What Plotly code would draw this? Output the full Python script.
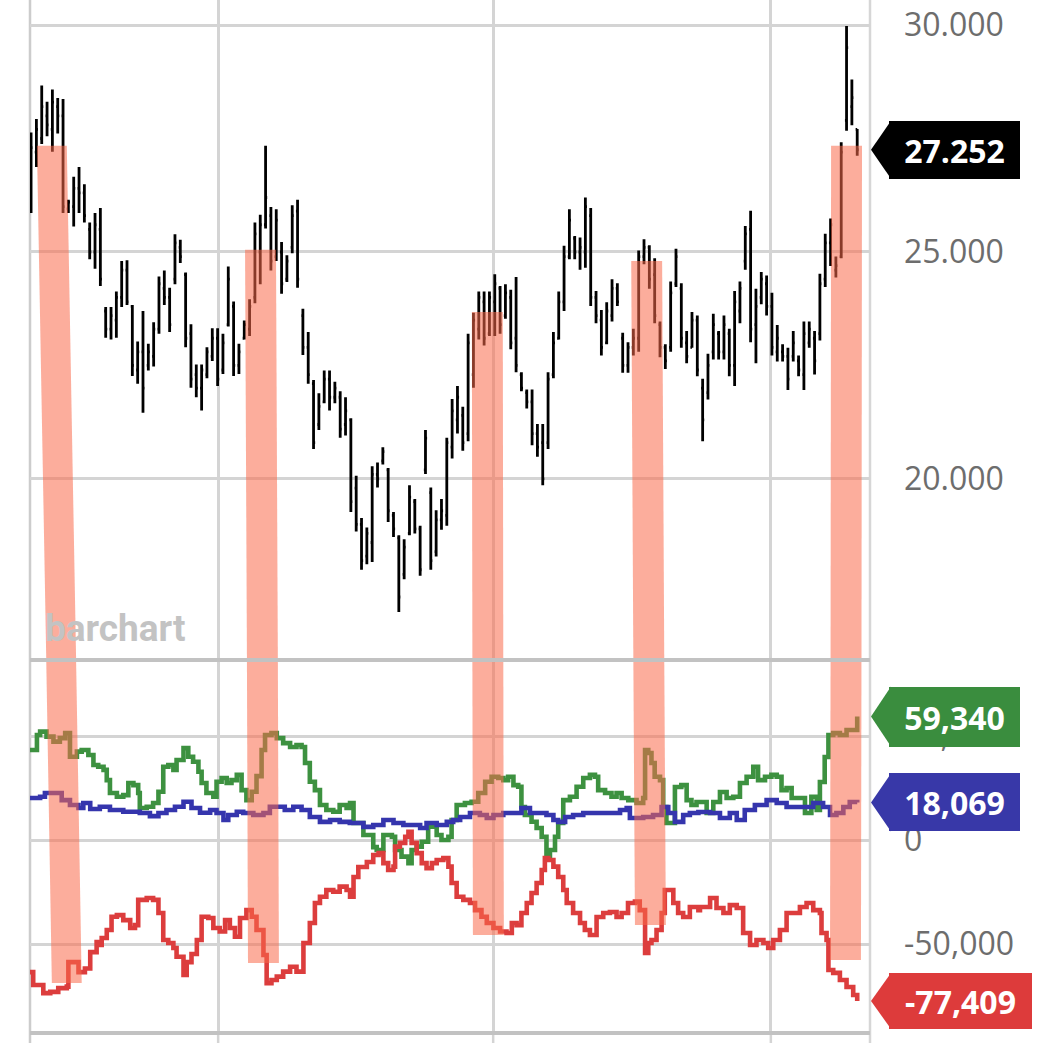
import plotly.graph_objects as go

# ---------------- price bars (daily OHLC) ----------------
highs = [
    27630, 27930, 28670, 28310, 28580, 28390, 28370, 26150, 26660, 26870,
    26490, 25650, 25860, 25970, 23790, 23790, 24130, 24800, 24820, 23830,
    23030, 23700, 22980, 23450, 24460, 24590, 24210, 25390, 25270, 24550,
    23410, 22520, 22520, 22900, 23320, 23320, 23200, 24680, 23910, 22980,
    23490, 23960, 25650, 25820, 27340, 25990, 25940, 25220, 24930, 26030,
    26150, 23750, 23240, 22180, 21890, 22390, 22390, 22140, 21930, 21800,
    21340, 20070, 19140, 18930, 20280, 20360, 20700, 20240, 19270, 18760,
    18670, 19860, 19560, 18970, 21080, 19810, 19310, 19560, 20910, 21760,
    22050, 21590, 23200, 23660, 24130, 24130, 24130, 24510, 24250, 24290,
    24170, 24450, 22350, 21970, 21970, 21210, 21210, 22350, 23240, 24130,
    25140, 25940, 25350, 25320, 26200, 25970, 24140, 23720, 23890, 24400,
    24310, 23220, 23010, 23310, 25030, 25280, 25150, 24860, 23470, 22970,
    24350, 25070, 24310, 23260, 23680, 23600, 22210, 22760, 23640, 23260,
    23600, 23310, 24140, 24350, 25570, 25910, 24190, 24560, 24480, 24100,
    23390, 22970, 22890, 23260, 22720, 23470, 23470, 23260, 24520, 25400,
    25740, 24900, 27420, 29980, 28800, 27710]
lows = [
    25860, 26870, 27380, 27550, 27210, 27610, 25860, 25860, 25560, 25860,
    25650, 24840, 24630, 24250, 23110, 23070, 23110, 23790, 23830, 22270,
    22100, 21460, 22390, 22480, 23200, 23830, 23240, 24290, 24760, 22900,
    22010, 21800, 21510, 22220, 22600, 22050, 22310, 23360, 22270, 22310,
    23070, 23150, 23870, 24290, 25520, 24590, 24800, 24080, 24340, 24970,
    24210, 22730, 22100, 20660, 21080, 21670, 21510, 21670, 20910, 20960,
    19270, 18840, 18000, 18120, 18170, 19810, 20320, 19050, 18720, 17070,
    17790, 18760, 18800, 17870, 20110, 18000, 18290, 18880, 18970, 20450,
    21000, 20620, 20830, 22010, 23070, 22940, 23150, 23150, 23200, 23530,
    22860, 22350, 21930, 21550, 20740, 20490, 19860, 20660, 22220, 23070,
    23700, 24840, 24840, 24610, 24650, 23810, 23430, 22720, 22970, 23470,
    23810, 22340, 22340, 22720, 22800, 24730, 24190, 23430, 22680, 22420,
    22800, 24230, 22890, 22550, 22890, 22260, 20830, 21750, 22630, 22630,
    22630, 22260, 22050, 23430, 24610, 23010, 22550, 23850, 23600, 22720,
    22590, 22590, 21960, 22590, 22260, 21960, 22890, 22300, 23050, 24230,
    24690, 24440, 24860, 27670, 27790, 27120]
opens = [
    26000, 27200, 27500, 28000, 27700, 28200, 28000, 25950, 26000, 26400,
    26300, 25500, 25000, 25500, 23700, 23300, 23500, 24000, 24600, 23800,
    22400, 22800, 22500, 22700, 23300, 24200, 24000, 24400, 25100, 24500,
    23200, 22300, 22000, 22300, 22700, 23100, 22400, 23400, 23800, 22500,
    23100, 23300, 24000, 25000, 25600, 25800, 24900, 25000, 24400, 25100,
    25900, 23600, 22900, 22100, 21200, 21700, 22200, 21800, 21800, 21200,
    21300, 19800, 19000, 18300, 18600, 20100, 20400, 20200, 19200, 18700,
    17900, 18800, 19500, 18900, 20200, 19700, 18400, 19100, 19200, 20700,
    21300, 21400, 21000, 22300, 23300, 23900, 23200, 23900, 24200, 23600,
    24000, 23100, 22300, 21900, 21700, 21000, 20800, 20800, 22300, 23100,
    23900, 24900, 25300, 25000, 25000, 25800, 24000, 23500, 23000, 23600,
    24200, 23100, 22500, 22900, 23100, 24900, 25100, 24500, 23400, 22900,
    22900, 24300, 24200, 23000, 22900, 23500, 22000, 21900, 22800, 23200,
    22800, 23200, 22500, 23700, 24800, 25500, 23400, 24000, 24300, 23800,
    22800, 22800, 22700, 22700, 22600, 22300, 23000, 23100, 23200, 24400,
    25200, 24600, 24900, 27900, 28200, 27700]
closes = [
    27300, 27700, 28200, 27800, 28300, 28000, 26000, 26100, 26400, 26300,
    25800, 25000, 25600, 24400, 23300, 23600, 24000, 24600, 23900, 22500,
    22800, 22000, 22800, 23300, 24300, 24000, 23400, 25200, 24900, 23100,
    22200, 22000, 22400, 22800, 23100, 22200, 23000, 24400, 22500, 22800,
    23400, 23800, 25400, 25600, 26200, 24800, 25700, 24300, 24800, 25800,
    24400, 22900, 22300, 20800, 21600, 22200, 21800, 22000, 21100, 21500,
    19500, 19000, 18200, 18800, 20100, 20000, 20600, 19300, 18900, 17400,
    18500, 19600, 18900, 18000, 20900, 18200, 19100, 19300, 20800, 21500,
    21800, 20800, 23000, 23500, 24000, 23100, 24000, 24300, 23400, 24100,
    23000, 22500, 22000, 21700, 21000, 20700, 20000, 22200, 23000, 23900,
    24900, 25700, 25000, 25100, 26000, 24000, 23600, 22900, 23700, 24200,
    23900, 22500, 22900, 23100, 24900, 25100, 24400, 23600, 22900, 22600,
    24100, 24900, 23100, 22700, 23500, 22400, 21300, 22500, 23400, 22800,
    23400, 22500, 23900, 24200, 25400, 23300, 23800, 24400, 23800, 22900,
    23100, 22700, 22200, 23000, 22400, 23200, 23300, 22600, 24300, 25200,
    25600, 24700, 27200, 29500, 28400, 27252]
bar_index = list(range(len(closes)))

# ---------------- lower panel series: (bar position, value) ----------------
green_points = [
    (-0.2, 43300), (1.1, 50500), (1.7, 52100), (2.9, 49700), (4.2, 47300), (5.4, 49000),
    (6.4, 51400), (7.3, 40000), (8.6, 42500), (9.5, 43300), (10.75, 40900), (11.7, 36100),
    (12.6, 35200), (13.6, 33700), (14.2, 28800), (14.8, 22600), (16.1, 20800), (17.3, 21600),
    (18.25, 27400), (19.2, 26400), (20.1, 22600), (20.4, 15400), (21.7, 16000), (22.9, 17800),
    (23.9, 23200), (24.8, 35200), (25.75, 36100), (26.7, 33700), (27.3, 38500), (28.6, 44200),
    (29.5, 40000), (30.4, 37600), (31.4, 32800), (32.0, 27400), (32.9, 22600), (34.2, 20800),
    (34.8, 28000), (35.75, 29800), (36.7, 27400), (37.6, 28800), (38.6, 31300), (39.5, 24000),
    (40.4, 19200), (41.4, 23200), (42.3, 30700), (43.25, 43300), (43.9, 50500), (45.1, 51400),
    (46.1, 49000), (47.3, 46600), (48.6, 44700), (49.8, 45700), (50.75, 44700), (51.4, 37000),
    (52.3, 28000), (53.25, 24000), (54.2, 16800), (55.4, 14400), (56.7, 13600), (57.9, 16800),
    (59.2, 15400), (59.85, 17800), (60.5, 8200), (62.35, 2400), (64.2, -3400), (64.85, -4800),
    (66.1, 2400), (67.7, 1600), (68.3, -4800), (69.5, -8000), (70.8, -11100), (71.4, -4800),
    (72.35, -3200), (73.3, -800), (74.5, 6400), (75.5, 7200), (76.1, 2400), (77.0, 0),
    (78.3, 1600), (78.9, 9600), (79.85, 16800), (81.4, 17800), (82.65, 18400), (83.9, 22600),
    (85.2, 28000), (86.4, 30400), (87.65, 29800), (88.6, 28800), (89.5, 30400), (90.5, 26400),
    (91.4, 25600), (92.0, 15900), (92.65, 12000), (93.9, 8800), (94.85, 5800), (95.8, 1600),
    (96.7, -8000), (97.35, -4800), (98.3, 1600), (98.9, 8200), (99.85, 19200), (101.1, 20800),
    (102.35, 25600), (103.6, 29800), (104.85, 31300), (105.8, 30400), (106.4, 24000), (107.7, 22600),
    (108.9, 20800), (109.85, 22600), (110.8, 20200), (112.05, 19200), (113.6, 17800), (114.85, 20200),
    (115.2, 43300), (115.8, 41800), (116.4, 37000), (117.0, 30400), (118.0, 28800), (118.6, 15900),
    (119.2, 8200), (120.2, 8200), (120.8, 25500), (122.0, 26400), (122.7, 26400), (123.0, 19200),
    (123.9, 16800), (124.85, 18300), (125.5, 18300), (126.75, 13000), (128.0, 18300), (129.25, 23100),
    (130.5, 20200), (131.75, 20800), (133.0, 27400), (134.25, 30400), (135.5, 35200), (136.4, 28800),
    (137.7, 30400), (138.9, 31300), (139.9, 30400), (140.8, 24000), (141.75, 25000), (142.7, 20200),
    (143.9, 20200), (145.2, 13000), (146.4, 20800), (147.4, 14400), (148.0, 27900), (148.9, 39900),
    (149.6, 50500), (150.5, 51400), (151.75, 50500), (153.0, 52900), (154.6, 52900), (155.0, 59340)]
blue_points = [
    (-0.2, 20200), (1.7, 20800), (2.6, 22600), (4.2, 22600), (5.75, 19200), (7.3, 16800),
    (8.9, 15400), (9.8, 17800), (11.1, 14900), (12.9, 16000), (14.8, 14400), (17.3, 13600),
    (18.9, 13600), (20.4, 13000), (22.3, 11500), (23.9, 13000), (25.4, 14400), (27.0, 16000),
    (28.6, 18400), (30.1, 15400), (31.7, 13100), (33.6, 14400), (34.8, 13000), (36.1, 9600),
    (37.0, 12000), (38.6, 13600), (39.8, 13000), (41.7, 12000), (43.6, 13000), (44.8, 16000),
    (46.1, 16000), (47.6, 14400), (49.2, 16000), (50.75, 14400), (52.3, 11100), (54.2, 8700),
    (56.1, 9600), (57.9, 8700), (59.8, 8200), (62.35, 6300), (64.2, 7200), (66.1, 9600),
    (68.0, 8200), (69.85, 7200), (71.75, 7200), (73.0, 5800), (74.2, 8200), (76.1, 7200),
    (78.0, 8700), (79.2, 9600), (80.5, 11100), (82.35, 13000), (84.2, 12000), (85.5, 10600),
    (86.75, 12000), (88.6, 13000), (90.5, 13000), (92.0, 15400), (93.6, 13000), (95.5, 13000),
    (96.7, 12000), (98.0, 9600), (98.9, 8700), (100.2, 11100), (101.7, 12000), (103.6, 13000),
    (107.35, 13000), (109.2, 13000), (110.5, 14400), (111.75, 15400), (112.35, 10600), (113.6, 10600),
    (114.85, 11100), (116.7, 12000), (118.3, 15900), (119.55, 13000), (120.8, 8700), (122.35, 12000),
    (123.6, 13000), (125.2, 13500), (127.4, 13000), (129.25, 10600), (131.1, 13000), (132.4, 9600),
    (133.9, 14400), (135.8, 16800), (138.0, 19200), (139.9, 17800), (141.75, 15900), (144.25, 15900),
    (146.75, 17800), (148.6, 15900), (149.9, 12000), (151.1, 13000), (152.4, 15900), (153.6, 18300),
    (155.0, 18069)]
red_points = [
    (-0.2, -63500), (0.4, -69700), (2.3, -73600), (3.6, -73000), (5.1, -71200), (6.7, -70500),
    (7.0, -58700), (8.25, -58700), (8.9, -63500), (10.1, -61800), (11.1, -53900), (12.3, -49100),
    (12.9, -50500), (13.25, -47100), (14.2, -43300), (15.1, -36900), (16.1, -36100), (17.3, -38500),
    (18.6, -42300), (19.5, -40900), (20.1, -28800), (21.7, -27900), (22.9, -28800), (23.9, -35100),
    (24.8, -48100), (25.75, -49500), (26.7, -51900), (27.3, -56100), (28.6, -64900), (29.2, -58700),
    (30.1, -54800), (31.1, -48100), (32.0, -36900), (33.25, -37500), (34.2, -42300), (35.4, -44000),
    (36.4, -38500), (37.3, -42300), (38.25, -46500), (39.2, -37500), (40.4, -33700), (41.4, -36900),
    (42.3, -43300), (43.6, -55300), (44.2, -68800), (45.1, -67300), (46.1, -65700), (47.3, -63300),
    (48.6, -60900), (49.8, -63300), (50.75, -63300), (51.1, -49500), (52.3, -39900), (53.25, -30300),
    (54.2, -27300), (55.4, -24000), (56.7, -24900), (57.9, -22400), (59.2, -24000), (59.85, -27300),
    (60.5, -17800), (61.4, -13000), (63.0, -10600), (64.2, -7200), (65.2, -6300), (66.1, -11100),
    (67.0, -14400), (68.0, -12800), (68.3, -3200), (69.2, -1400), (70.2, 1600), (70.8, 4000),
    (71.4, -1400), (72.35, -6300), (73.3, -11100), (74.2, -13500), (75.2, -11100), (76.1, -9600),
    (77.35, -8700), (78.3, -12800), (78.9, -20700), (79.85, -27300), (81.1, -28800), (82.35, -30300),
    (83.3, -33700), (84.5, -36900), (85.5, -39900), (86.75, -42300), (88.0, -44000), (89.2, -44700),
    (90.2, -39900), (91.1, -40900), (92.0, -35100), (93.0, -30300), (93.9, -25500), (94.85, -20700),
    (95.8, -14400), (96.4, -8700), (97.05, -9600), (98.0, -12800), (98.9, -17800), (99.85, -24000),
    (100.5, -30300), (101.7, -35100), (103.0, -39900), (103.9, -43300), (104.85, -45700), (105.8, -45700),
    (106.1, -37000), (107.35, -35100), (108.6, -34600), (109.85, -37000), (110.8, -35100), (112.0, -30300),
    (113.3, -29600), (114.2, -33700), (115.2, -54300), (115.8, -49500), (116.4, -48100), (117.35, -43300),
    (118.3, -35100), (118.9, -24000), (119.85, -24000), (120.5, -30300), (121.4, -35100), (122.35, -37000),
    (123.6, -32200), (125.2, -33700), (125.5, -32200), (127.4, -27900), (128.6, -32700), (129.9, -35100),
    (131.1, -31300), (132.4, -32700), (133.6, -44700), (134.9, -50500), (136.1, -48100), (137.4, -49500),
    (138.3, -51900), (139.25, -48100), (140.5, -43300), (141.75, -35100), (143.0, -35100), (144.25, -32200),
    (145.5, -30300), (146.75, -33700), (148.0, -35100), (148.3, -44700), (149.25, -48100), (149.6, -62500),
    (150.5, -63900), (151.75, -67300), (153.0, -70700), (154.25, -74500), (155.0, -77409)]

# ---------------- axes ----------------
price_ticks = [20000, 25000, 30000]
price_tick_text = ["20.000", "25.000", "30.000"]
ind_ticks = [-50000, 0, 50000]
ind_tick_text = ["-50,000", "0", "50,000"]
time_grid = [35.1, 86.7, 138.8]
price_range = [16035, 30551]
ind_range = [-92788, 86058]
x_range = [-0.2, 157.4]

# ---------------- highlighted bands ----------------
band_left_top = [1.1, 40.15, 82.7, 112.6, 150.1]
band_left_mid = [2.85, 40.5, 82.8, 113.0, 150.0]
band_left_bot = [3.9, 40.7, 82.9, 113.3, 149.9]
band_width = [5.6, 5.8, 5.8, 5.8, 5.8]
band_top_price = [27340, 25050, 23680, 24800, 27340]
band_bottom_value = [-68800, -59100, -45700, -40900, -57700]

# ---------------- last value tags ----------------
tag_values = [closes[-1], green_points[-1][1], blue_points[-1][1], red_points[-1][1]]
tag_text = ["27.252", "59,340", "18,069", "-77,409"]
tag_colors = ["#000000", "#3a8d3e", "#3838a8", "#dd3b3b"]
tag_axis = ["y", "y2", "y2", "y2"]
tag_right = [150, 150, 150, 162]
tag_half_height = [29, 30, 29, 28]

GREEN, BLUE, RED = "#3d9140", "#3535ad", "#dc3d3d"
GRID = "#d4d4d4"
FONT = "Open Sans"

fig = go.Figure()
fig.add_trace(go.Ohlc(
    x=bar_index, open=opens, high=highs, low=lows, close=closes,
    increasing=dict(line=dict(color="black", width=2.8)),
    decreasing=dict(line=dict(color="black", width=2.8)),
    tickwidth=0.3, xaxis="x", yaxis="y", showlegend=False, hoverinfo="skip"))

for pts, col in [(green_points, GREEN), (blue_points, BLUE), (red_points, RED)]:
    fig.add_trace(go.Scatter(
        x=[p[0] for p in pts], y=[p[1] for p in pts], mode="lines",
        line=dict(color=col, width=4.6, shape="hv"), xaxis="x2", yaxis="y2",
        showlegend=False, hoverinfo="skip"))

shapes = []
band_fill = "rgba(250,105,75,0.55)"
for lt, lm, lb, w, pt, vb in zip(band_left_top, band_left_mid, band_left_bot,
                                 band_width, band_top_price, band_bottom_value):
    pmin = price_range[0]
    vmax = ind_range[1]
    shapes.append(dict(type="path", xref="x", yref="y", layer="above",
                       path=f"M {lt},{pt} L {lt + w},{pt} L {lm + w},{pmin} L {lm},{pmin} Z",
                       fillcolor=band_fill, line=dict(width=0)))
    shapes.append(dict(type="path", xref="x2", yref="y2", layer="above",
                       path=f"M {lm},{vmax} L {lm + w},{vmax} L {lb + w},{vb} L {lb},{vb} Z",
                       fillcolor=band_fill, line=dict(width=0)))

# frame lines
shapes.append(dict(type="line", xref="paper", yref="paper", x0=0, x1=0, y0=-0.0097, y1=1,
                   line=dict(color="#cccccc", width=2.5), layer="below"))
shapes.append(dict(type="line", xref="paper", yref="paper", x0=1, x1=1, y0=-0.0097, y1=1,
                   line=dict(color="#d6d6d6", width=2.5), layer="below"))
for yy in [0.3611, 0.0]:
    shapes.append(dict(type="line", xref="paper", yref="paper", x0=0, x1=1, y0=yy, y1=yy,
                       line=dict(color="#c2c2c2", width=4), layer="above"))
for gx in time_grid:
    shapes.append(dict(type="line", xref="x2", yref="paper", x0=gx, x1=gx, y0=-0.0097, y1=0,
                       line=dict(color=GRID, width=2.5), layer="below"))

annotations = []
for val, txt, col, ax, right, half in zip(tag_values, tag_text, tag_colors, tag_axis,
                                          tag_right, tag_half_height):
    # pointed left end of the tag
    shapes.append(dict(type="path", xref="paper", yref=ax, xsizemode="pixel", ysizemode="pixel",
                       xanchor=1, yanchor=val, layer="above",
                       path=f"M 1,0 L 21,{half} L 21,{-half} Z",
                       fillcolor=col, line=dict(width=0)))
    # box body with the value (drawn above the axis labels)
    annotations.append(dict(xref="paper", yref=ax, x=1, y=val, xanchor="left", yanchor="middle",
                            xshift=19, showarrow=False, text=txt, bgcolor=col,
                            borderpad=0, borderwidth=0, width=right - 19, height=2 * half,
                            align="center", valign="middle",
                            font=dict(family=FONT, size=32, color="white", weight="bold")))

annotations.append(dict(xref="paper", yref="paper", x=0.0155, y=0.392, xanchor="left",
                        yanchor="middle", showarrow=False, text="barchart",
                        font=dict(family="Roboto", size=37, color="#c3c3c3", weight="bold")))

axis_common = dict(showline=False, zeroline=False, ticks="", fixedrange=True)
fig.update_layout(
    width=1064, height=1043, autosize=False,
    margin=dict(l=30, r=194, t=0, b=10, pad=0),
    paper_bgcolor="white", plot_bgcolor="white",
    font=dict(family=FONT),
    showlegend=False,
    shapes=shapes, annotations=annotations,
    xaxis=dict(domain=[0, 1], anchor="y", range=x_range, tickvals=time_grid,
               showticklabels=False, showgrid=True, gridcolor=GRID, gridwidth=2.5,
               rangeslider=dict(visible=False), **axis_common),
    xaxis2=dict(domain=[0, 1], anchor="y2", range=x_range, tickvals=time_grid,
                showticklabels=False, showgrid=True, gridcolor=GRID, gridwidth=2.5,
                **axis_common),
    yaxis=dict(domain=[0.3621, 1], anchor="x", side="right", range=price_range,
               tickvals=price_ticks, ticktext=price_tick_text, showgrid=True,
               gridcolor=GRID, gridwidth=2.5, ticklabelstandoff=33,
               tickfont=dict(family=FONT, size=32, color="#6d6d6d"), **axis_common),
    yaxis2=dict(domain=[0, 0.3601], anchor="x2", side="right", range=ind_range,
                tickvals=ind_ticks, ticktext=ind_tick_text, showgrid=True,
                gridcolor=GRID, gridwidth=2.5, ticklabelstandoff=33,
                tickfont=dict(family=FONT, size=32, color="#6d6d6d"), **axis_common),
)

fig.write_html("out.html", config={"displayModeBar": False},
               post_script="document.body.style.margin='0';document.body.style.overflow='hidden';")
